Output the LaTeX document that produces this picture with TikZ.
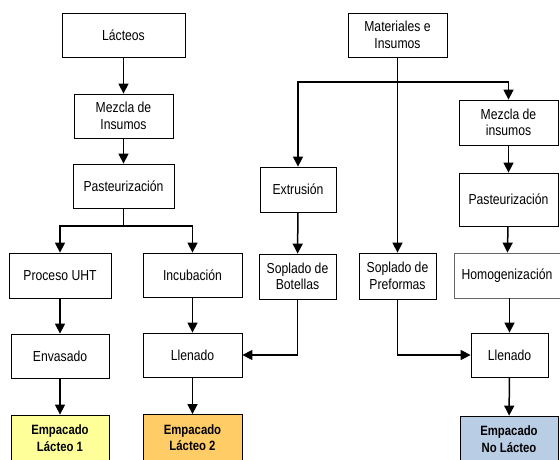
\documentclass[tikz,border=0pt]{standalone}
\usepackage{fontspec}
\setmainfont[FakeStretch=0.84]{Liberation Sans}
\usetikzlibrary{arrows.meta}
\definecolor{yel}{HTML}{FFFF99}
\definecolor{org}{HTML}{FFCC66}
\definecolor{blu}{HTML}{B9CDE5}
\begin{document}
\begin{tikzpicture}[x=1pt,y=-1pt,
  box/.style={draw=black, line width=0.8pt, fill=white, rectangle, inner sep=0pt, align=center,
    font=\fontsize{14.5}{16.5}\selectfont},
  fbox/.style={box, font=\fontsize{13.5}{16.5}\selectfont\bfseries},
  arr/.style={line width=1.5pt, -{Triangle[width=10pt,length=10pt]}},
  ln/.style={line width=1.5pt}]
\useasboundingbox (0,0) rectangle (560,460);
\fill[white] (0,0) rectangle (560,460);
% left column
\node[box, minimum width=123pt, minimum height=44pt] (lact) at (123.5,35) {Lácteos};
\node[box, minimum width=99pt, minimum height=44pt] (mez1) at (123.5,116) {Mezcla de\\Insumos};
\node[box, minimum width=101pt, minimum height=44pt] (past1) at (123.5,186) {Pasteurización};
\node[box, minimum width=102pt, minimum height=45pt] (uht) at (60,275.5) {Proceso UHT};
\node[box, minimum width=99pt, minimum height=44pt] (incu) at (192.5,275) {Incubación};
\node[box, minimum width=98pt, minimum height=44pt] (env) at (60,356) {Envasado};
\node[box, minimum width=99pt, minimum height=44pt] (llen1) at (192.5,355) {Llenado};
\node[fbox, fill=yel, minimum width=98pt, minimum height=46pt] (emp1) at (60,438) {Empacado\\Lácteo 1};
\node[fbox, fill=org, minimum width=99pt, minimum height=46pt] (emp2) at (192.5,437.5) {Empacado\\Lácteo 2};
% right part
\node[box, minimum width=99pt, minimum height=44pt] (mat) at (397.5,35) {Materiales e\\Insumos};
\node[box, minimum width=76pt, minimum height=45pt] (extr) at (298,189.5) {Extrusión};
\node[box, minimum width=99pt, minimum height=45pt] (mez2) at (508.5,122.5) {Mezcla de\\insumos};
\node[box, minimum width=99pt, minimum height=53pt] (past2) at (508.5,199.5) {Pasteurización};
\node[box, minimum width=77pt, minimum height=45pt] (sopB) at (297.5,276.5) {Soplado de\\Botellas};
\node[box, minimum width=77pt, minimum height=46pt] (sopP) at (397.5,276) {Soplado de\\Preformas};
\node[box, draw=black!60, minimum width=106pt, minimum height=45pt] (homo) at (507,275.5) {Homogenización};
\node[box, minimum width=77pt, minimum height=44pt] (llen2) at (509.5,355) {Llenado};
\node[fbox, fill=blu, minimum width=98pt, minimum height=46pt] (emp3) at (509,439) {Empacado\\No Lácteo};
% junction coordinates
\coordinate (j1) at (123.5,226);
\coordinate (j2) at (397.5,82);
% left connectors
\draw[arr] (lact) -- (mez1);
\draw[arr] (mez1) -- (past1);
\draw[ln] (past1) -- (j1);
\draw[arr] (j1) -| (uht);
\draw[arr] (j1) -| (incu);
\draw[arr] (uht) -- (env);
\draw[arr] (env) -- (emp1);
\draw[arr] (incu) -- (llen1);
\draw[arr] (llen1) -- (emp2);
% right connectors
\draw[ln] (mat) -- (j2);
\draw[arr] (j2) -| (extr);
\draw[arr] (j2) -| (mez2);
\draw[arr] (j2) -- (sopP);
\draw[arr] (extr) -- (sopB);
\draw[arr] (sopB) |- (llen1);
\draw[arr] (sopP) |- (llen2);
\draw[arr] (mez2) -- (past2);
\draw[arr] (past2) -- (homo);
\draw[arr] (homo.south -| llen2) -- (llen2);
\draw[arr] (llen2) -- (emp3);
\end{tikzpicture}
\end{document}
